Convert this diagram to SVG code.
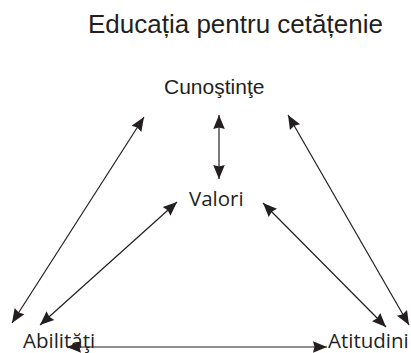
<svg xmlns="http://www.w3.org/2000/svg" width="411" height="353" viewBox="0 0 411 353">
<style>
.title{font-family:"Liberation Sans",Arial,sans-serif;font-size:26px;fill:#231f20}
.arial{font-family:"Liberation Sans",Arial,sans-serif;font-size:21px;fill:#231f20}
.myr{font-family:"Open Sans","Noto Sans",sans-serif;font-size:20.5px;fill:#231f20}
.conn line{stroke:#231f20;stroke-width:1.2;fill:none;marker-start:url(#ah);marker-end:url(#ah)}
</style>
<defs>
<marker id="ah" markerUnits="userSpaceOnUse" markerWidth="17" markerHeight="14" viewBox="-15 -7 17 14" refX="0" refY="0" orient="auto-start-reverse">
<path d="M0,0 L-14,-5.8 L-12.5,0 L-14,5.8 z" fill="#231f20"/>
</marker>
</defs>
<rect width="411" height="353" fill="#fff"/>
<g id="title"><text class="title" x="88" y="33">Educația pentru cetățenie</text></g>
<g id="cunostinte"><text class="arial" x="164" y="94">Cunoştinţe</text></g>
<g id="valori"><text class="myr" x="189" y="206">Valori</text></g>
<g id="abilitati"><text class="myr" x="23" y="348">Abilităţi</text></g>
<g id="atitudini"><text class="myr" x="328" y="348">Atitudini</text></g>
<g id="connectors" class="conn">
<line x1="219" y1="115" x2="219" y2="179"/>
<line x1="144" y1="117" x2="12" y2="323"/>
<line x1="177" y1="202" x2="40" y2="325"/>
<line x1="263" y1="203" x2="386" y2="327"/>
<line x1="288" y1="115" x2="409" y2="325"/>
<line x1="67" y1="347" x2="327" y2="347"/>
</g>
</svg>
